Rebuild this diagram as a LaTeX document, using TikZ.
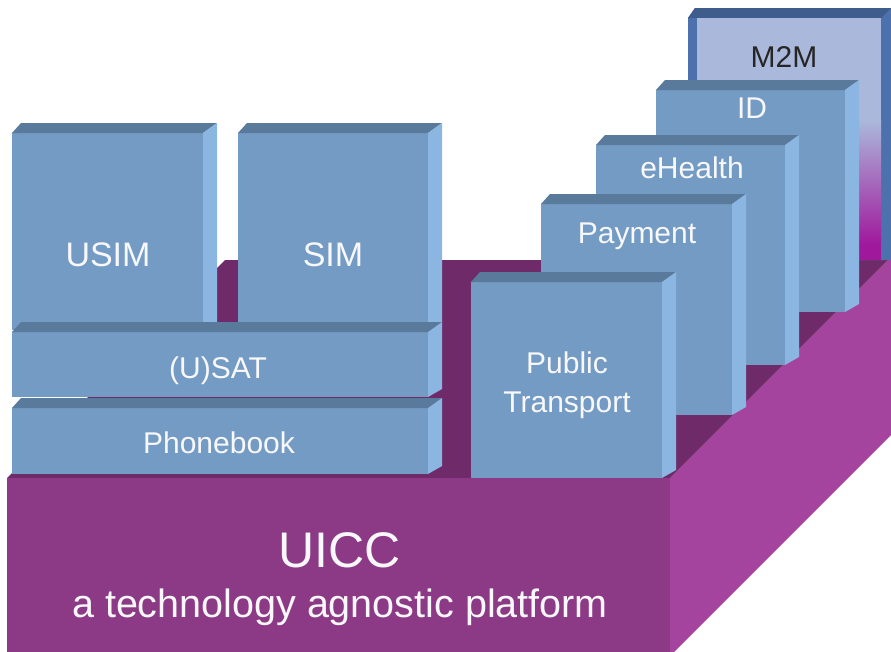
\documentclass[tikz,border=0pt]{standalone}
\usepackage{fontspec}
\setmainfont{Liberation Sans}
\definecolor{platfront}{RGB}{141,58,134}
\definecolor{plattop}{RGB}{111,43,105}
\definecolor{platside}{RGB}{165,68,159}
\definecolor{boxfront}{RGB}{116,155,196}
\definecolor{boxtop}{RGB}{89,122,155}
\definecolor{boxside}{RGB}{139,182,226}
\definecolor{mtop}{RGB}{62,93,140}
\definecolor{mside}{RGB}{77,113,172}
\definecolor{mlav}{RGB}{170,185,219}
\definecolor{mmid}{RGB}{178,140,196}
\definecolor{mmag}{RGB}{160,24,156}
\definecolor{txtwhite}{RGB}{248,248,250}
\newcommand\blk[4]{%
  \fill[boxfront] (#1,#2) rectangle (#3,#4);
  \fill[boxtop] (#1,#2) -- (#3,#2) -- ({#3+14},{#2-10}) -- ({#1+9},{#2-10}) -- cycle;
  \fill[boxside] (#3,#2) -- ({#3+14},{#2-10}) -- ({#3+14},{#4-8}) -- (#3,#4) -- cycle;
}
\tikzset{
  lbl/.style={text=txtwhite, font=\fontsize{30}{36}\selectfont, anchor=base, inner sep=0pt},
  biglbl/.style={text=txtwhite, font=\fontsize{34}{40}\selectfont, anchor=base, inner sep=0pt}
}
\begin{document}
\begin{tikzpicture}[x=1pt,y=-1pt]
\useasboundingbox (0,0) rectangle (891,651);
\clip (0,0) rectangle (891,651);
\fill[white] (0,0) rectangle (891,651);
% platform
\fill[platside] (670,478) -- (891,257) -- (900,257) -- (900,426) -- (670,656) -- cycle;
\fill[plattop] (7,478) -- (670,478) -- (888,260) -- (225,260) -- cycle;
\fill[platfront] (7,478) rectangle (670,660);
% M2M box
\fill[mside] (688,18) -- (695,8) -- (891,8) -- (891,260) -- (688,260) -- cycle;
\fill[mtop] (688,18) -- (695,8) -- (891,8) -- (881,18) -- cycle;
\fill[mlav] (697,18) rectangle (881,121);
\shade[top color=mlav, middle color=mmid, bottom color=mmag] (697,120) rectangle (881,245);
\fill[mmag] (697,244) rectangle (881,260);
% stacked application boxes
\blk{656}{90}{845}{312}
\blk{596}{145}{785}{365}
\blk{541}{204}{732}{415}
\blk{471}{282}{662}{478}
% telecom boxes
\blk{12}{133}{203}{330}
\blk{238}{133}{428}{330}
\blk{12}{332}{428}{397}
\blk{12}{408}{428}{474}
% labels
\node[lbl, text=black!85] (m2m) at (784,67) {M2M};
\node[lbl] (id) at (752,118) {ID};
\node[lbl] (ehealth) at (692,178) {eHealth};
\node[lbl] (payment) at (637,243) {Payment};
\node[lbl] (public) at (567,373) {Public};
\node[lbl] (transport) at (567,412) {Transport};
\node[biglbl] (usim) at (108,266) {USIM};
\node[biglbl] (sim) at (333,266) {SIM};
\node[lbl] (usat) at (218,378) {(U)SAT};
\node[lbl] (phonebook) at (219,453) {Phonebook};
\node[text=txtwhite, font=\fontsize{50}{60}\selectfont, anchor=base, inner sep=0pt] (uicc) at (340,567) {UICC};
\node[text=txtwhite, font=\fontsize{39.5}{46}\selectfont, anchor=base, inner sep=0pt] (agn) at (340,617) {a technology agnostic platform};
\end{tikzpicture}
\end{document}
